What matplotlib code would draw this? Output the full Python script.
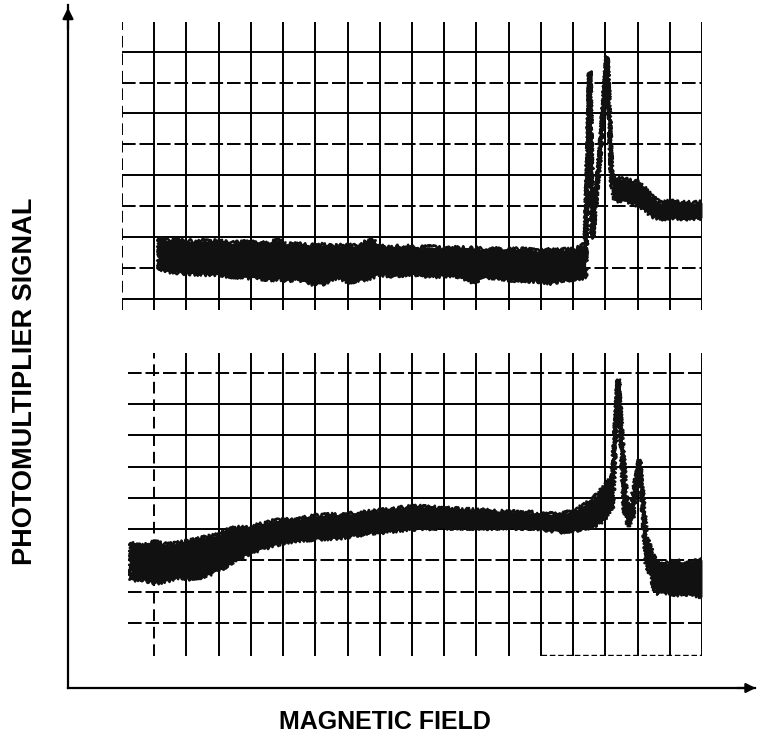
# -*- coding: utf-8 -*-
import numpy as np
import matplotlib
matplotlib.use("Agg")
import matplotlib.pyplot as plt

#####################################################
# Traces            #
# x: field in grid divisions, y: signal in divisions #
#####################################################
top_field = [1.15, 1.4, 1.8, 2.2, 2.6, 3.0, 3.4, 3.8, 4.25, 4.6, 4.86, 5.1,
             5.47, 5.8, 6.2, 6.5, 6.71, 7.0, 7.3, 7.77, 7.95, 8.4, 8.8, 9.18,
             9.6, 10.0, 10.41, 10.9, 11.3, 11.65, 12.0, 12.4, 12.87, 13.3,
             13.7, 14.10, 14.38, 14.52, 14.60, 14.84, 15.05, 15.20, 15.30,
             15.7, 16.1, 16.4, 16.7, 17.0, 17.5, 18.0]
top_hi = [1.95, 1.90, 1.93, 1.85, 1.88, 1.87, 1.80, 1.84, 1.81, 1.78, 1.95,
          1.76, 1.77, 1.72, 1.75, 1.70, 1.71, 1.74, 1.70, 1.95, 1.71, 1.68,
          1.70, 1.65, 1.68, 1.62, 1.65, 1.63, 1.60, 1.61, 1.58, 1.62, 1.55,
          1.60, 1.58, 1.61, 1.80, 7.35, 2.05, 4.80, 7.84, 3.95, 3.90, 3.85,
          3.75, 3.35, 3.10, 3.15, 3.10, 3.12]
top_lo = [1.00, 0.90, 0.85, 0.82, 0.80, 0.80, 0.72, 0.70, 0.68, 0.62, 0.66,
          0.60, 0.64, 0.50, 0.48, 0.62, 0.68, 0.55, 0.58, 0.70, 0.80, 0.75,
          0.78, 0.80, 0.72, 0.76, 0.74, 0.55, 0.70, 0.68, 0.62, 0.60, 0.58,
          0.50, 0.62, 0.64, 0.70, 7.35, 1.95, 4.70, 7.84, 3.75, 3.20, 3.15,
          3.00, 2.70, 2.60, 2.62, 2.60, 2.62]

bot_field = [0.28, 0.6, 1.04, 1.4, 1.77, 2.1, 2.52, 3.01, 3.3, 3.51, 3.9,
             4.25, 4.6, 4.98, 5.3, 5.71, 6.2, 6.71, 7.2, 7.70, 8.2, 8.68, 9.2,
             9.66, 10.2, 10.65, 11.2, 11.65, 12.1, 12.63, 13.1, 13.60, 14.10,
             14.60, 14.97, 15.22, 15.40, 15.59, 15.71, 15.84, 16.06, 16.27,
             16.57, 16.94, 17.2, 17.42, 17.7, 18.0]
bot_hi = [2.56, 2.45, 2.60, 2.50, 2.56, 2.62, 2.72, 2.82, 3.00, 3.04, 3.05,
          3.14, 3.25, 3.30, 3.28, 3.37, 3.45, 3.46, 3.50, 3.56, 3.62, 3.69,
          3.72, 3.69, 3.66, 3.62, 3.60, 3.56, 3.55, 3.53, 3.50, 3.46, 3.62,
          3.94, 4.36, 4.68, 7.79, 4.81, 3.30, 4.00, 5.22, 2.76, 1.92, 1.90,
          2.00, 1.92, 1.95, 2.02]
bot_lo = [1.38, 1.40, 1.28, 1.35, 1.47, 1.42, 1.47, 1.70, 1.85, 2.02, 2.20,
          2.34, 2.45, 2.56, 2.60, 2.66, 2.70, 2.72, 2.80, 2.88, 2.92, 2.98,
          3.02, 3.04, 3.04, 3.04, 3.04, 3.04, 3.04, 3.04, 3.00, 2.92, 2.98,
          3.08, 3.30, 3.72, 7.79, 3.62, 3.10, 3.30, 5.22, 1.92, 0.96, 0.98,
          0.90, 0.96, 0.88, 0.83]

# graticule horizontal lines, listed from the bottom line (0) up to line 8
# True = broken/dashed on the photo
top_h_dashed = [False, True, False, True, False, True, False, True, False]
bot_h_dashed = [True, True, True, False, False, False, False, False, True]

W, H = 764, 744
fig = plt.figure(figsize=(W / 100, H / 100), dpi=100)
plt.rcParams['font.family'] = ['Liberation Sans', 'DejaVu Sans']


def px_rect(x0, y0, x1, y1):
    # pixel box (top-left origin) -> figure fraction
    return [x0 / W, 1 - y1 / H, (x1 - x0) / W, (y1 - y0) / H]


###############
# Outer frame #
###############
ax = fig.add_axes(px_rect(68, 5, 755, 688))
ax.set_xticks([])
ax.set_yticks([])
for s in ['top', 'right']:
    ax.spines[s].set_visible(False)
for s in ['left', 'bottom']:
    ax.spines[s].set_linewidth(1.6)
ax.annotate('', xy=(0, 1.0), xytext=(0, 0.96), xycoords='axes fraction',
            arrowprops=dict(arrowstyle='-|>', color='k', lw=1.6,
                            mutation_scale=16))
ax.annotate('', xy=(1.005, 0), xytext=(0.97, 0), xycoords='axes fraction',
            arrowprops=dict(arrowstyle='-|>', color='k', lw=1.6,
                            mutation_scale=14))
fig.text(385 / W, 1 - 722 / H, 'MAGNETIC FIELD', ha='center', va='center',
         fontsize=18, fontweight='bold')
fig.text(25 / W, 1 - 381 / H, 'PHOTOMULTIPLIER SIGNAL', ha='center',
         va='center', rotation=90, fontsize=19.5, fontweight='bold')


def draw_panel(rect, xlim, ylim, vlines, hdash, fx, lo, hi):
    a = fig.add_axes(rect)
    a.set_xlim(*xlim)
    a.set_ylim(*ylim)
    a.axis('off')
    for k, dashed in enumerate(hdash):
        a.hlines(k, xlim[0], xlim[1], color='k', lw=1.4,
                 linestyles=(0, (7, 2)) if dashed else 'solid')
    for k, xv in enumerate(vlines):
        a.vlines(xv, ylim[0], ylim[1], color='k', lw=1.4,
                 linestyles=(0, (6, 3)) if k == 0 else 'solid')
    fx = np.array(fx)
    lo = np.array(lo)
    hi = np.array(hi)
    a.fill_between(fx, lo, hi, color='#111111', lw=0, zorder=3)
    # ragged outline so the band looks like a noisy scope trace
    edge = a.fill_between(fx, lo, hi, facecolor='none', edgecolor='#111111',
                          lw=1.8, zorder=3)
    edge.set_sketch_params(scale=2, length=2, randomness=4)
    a.plot(fx, (lo + hi) / 2, color='#111111', lw=1.8, zorder=3,
           solid_joinstyle='miter')
    return a


# top trace
draw_panel(px_rect(122, 22, 702, 310), (0, 18), (-0.36, 8.96),
           list(range(0, 19)), top_h_dashed, top_field, top_lo, top_hi)

# bottom trace
ab = draw_panel(px_rect(128.4, 353, 702, 656), (0.2, 18), (-1.06, 8.64),
                list(range(1, 19)), bot_h_dashed, bot_field, bot_lo, bot_hi)
ab.hlines(-1.03, 13, 18, color='k', lw=1.0, linestyles=(0, (4, 2)))

fig.savefig('out.png', dpi=100)
